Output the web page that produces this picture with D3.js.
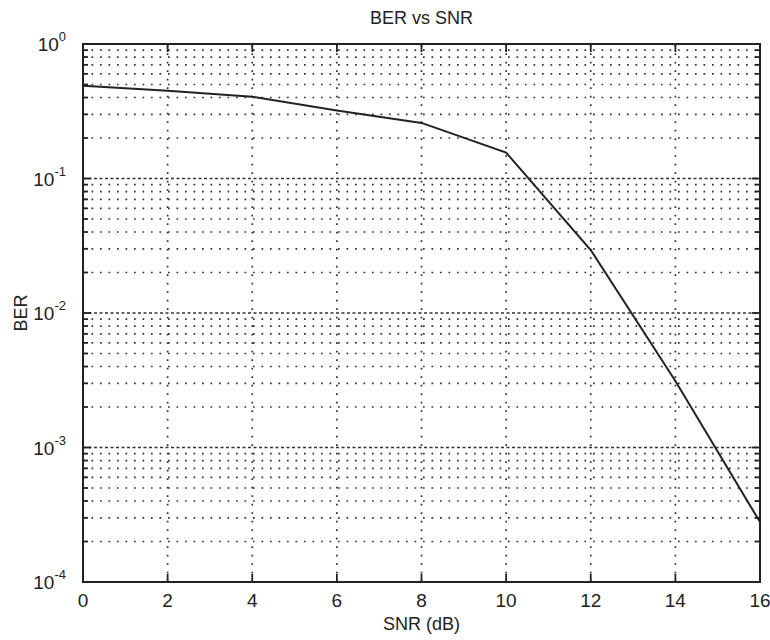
<!DOCTYPE html>
<html>
<head>
<meta charset="utf-8">
<script src="https://cdn.jsdelivr.net/npm/d3@7"></script>
<style>
  body { margin: 0; padding: 0; background: #fff; }
  svg text { font-family: "Liberation Sans", Arial, Helvetica, sans-serif; fill: #222; }
</style>
</head>
<body>
<script>
// data
var snr = [0, 2, 4, 6, 8, 10, 12, 14, 16];
var ber = [0.49, 0.45, 0.405, 0.32, 0.259, 0.156, 0.0294, 0.00312, 0.000279];
var xTicks = [0, 2, 4, 6, 8, 10, 12, 14, 16];
var yDecades = [0, -1, -2, -3, -4];

var W = 770, H = 640;
var m = {left: 83, right: 10, top: 44, bottom: 58};

var svg = d3.select("body").append("svg")
  .attr("width", W).attr("height", H);

var x = d3.scaleLinear().domain([0, 16]).range([m.left, W - m.right]);
var y = d3.scaleLog().domain([1e-4, 1]).range([H - m.bottom, m.top]);

var x0 = x.range()[0], x1 = x.range()[1], y0 = y.range()[0], y1 = y.range()[1];

// minor log values
var minors = [];
for (var e = -4; e < 0; e++) {
  for (var k = 2; k <= 9; k++) minors.push(k * Math.pow(10, e));
}
var majors = yDecades.map(function(d) { return Math.pow(10, d); });

var grid = svg.append("g");
grid.selectAll(".hmin").data(minors).enter().append("line")
  .attr("x1", x0).attr("x2", x1)
  .attr("y1", function(d) { return y(d); }).attr("y2", function(d) { return y(d); })
  .attr("stroke", "#333").attr("stroke-width", 1.7)
  .attr("stroke-dasharray", "1.7,6.8");
grid.selectAll(".hmaj").data(majors.slice(1, 4)).enter().append("line")
  .attr("x1", x0).attr("x2", x1)
  .attr("y1", function(d) { return y(d); }).attr("y2", function(d) { return y(d); })
  .attr("stroke", "#333").attr("stroke-width", 1.6)
  .attr("stroke-dasharray", "3,2.5");
grid.selectAll(".v").data(xTicks.slice(1, -1)).enter().append("line")
  .attr("x1", function(d) { return x(d); }).attr("x2", function(d) { return x(d); })
  .attr("y1", y0).attr("y2", y1)
  .attr("stroke", "#333").attr("stroke-width", 1.7)
  .attr("stroke-dasharray", "1.7,6.8");

// tick marks (inward)
var ticks = svg.append("g").attr("stroke", "#222");
ticks.selectAll(".ml").data(minors).enter().append("line")
  .attr("x1", x0).attr("x2", x0 + 5)
  .attr("y1", function(d) { return y(d); }).attr("y2", function(d) { return y(d); })
  .attr("stroke-width", 1.8);
ticks.selectAll(".mr").data(minors).enter().append("line")
  .attr("x1", x1).attr("x2", x1 - 5)
  .attr("y1", function(d) { return y(d); }).attr("y2", function(d) { return y(d); })
  .attr("stroke-width", 1.8);
ticks.selectAll(".jl").data(majors).enter().append("line")
  .attr("x1", x0).attr("x2", x0 + 8)
  .attr("y1", function(d) { return y(d); }).attr("y2", function(d) { return y(d); })
  .attr("stroke-width", 1.8);
ticks.selectAll(".jr").data(majors).enter().append("line")
  .attr("x1", x1).attr("x2", x1 - 8)
  .attr("y1", function(d) { return y(d); }).attr("y2", function(d) { return y(d); })
  .attr("stroke-width", 1.8);
ticks.selectAll(".xb").data(xTicks).enter().append("line")
  .attr("x1", function(d) { return x(d); }).attr("x2", function(d) { return x(d); })
  .attr("y1", y0).attr("y2", y0 - 8).attr("stroke-width", 1.8);
ticks.selectAll(".xt").data(xTicks).enter().append("line")
  .attr("x1", function(d) { return x(d); }).attr("x2", function(d) { return x(d); })
  .attr("y1", y1).attr("y2", y1 + 8).attr("stroke-width", 1.8);

// box
svg.append("rect")
  .attr("x", x0).attr("y", y1).attr("width", x1 - x0).attr("height", y0 - y1)
  .attr("fill", "none").attr("stroke", "#222").attr("stroke-width", 2);

// curve
var line = d3.line()
  .x(function(d, i) { return x(snr[i]); })
  .y(function(d) { return y(d); });
svg.append("path").datum(ber)
  .attr("d", line)
  .attr("fill", "none").attr("stroke", "#222").attr("stroke-width", 2);

// x tick labels
svg.selectAll(".xl").data(xTicks).enter().append("text")
  .attr("x", function(d) { return x(d); }).attr("y", y0 + 25)
  .attr("text-anchor", "middle").attr("font-size", 19)
  .text(function(d) { return d; });

// y tick labels 10^n
var yl = svg.selectAll(".yl").data(yDecades).enter().append("text")
  .attr("x", 66).attr("y", function(d) { return y(Math.pow(10, d)) + 7; })
  .attr("text-anchor", "end").attr("font-size", 19);
yl.append("tspan").text("10");
yl.append("tspan").attr("dy", -10).attr("font-size", 13)
  .text(function(d) { return d === 0 ? "0" : "-" + (-d); });

// title and axis labels
svg.append("text").attr("x", (x0 + x1) / 2).attr("y", 24)
  .attr("text-anchor", "middle").attr("font-size", 18).text("BER vs SNR");
svg.append("text").attr("x", (x0 + x1) / 2).attr("y", 630)
  .attr("text-anchor", "middle").attr("font-size", 18).text("SNR (dB)");
svg.append("text")
  .attr("transform", "translate(27," + y(1e-2) + ") rotate(-90)")
  .attr("text-anchor", "middle").attr("font-size", 18).text("BER");
</script>
</body>
</html>
